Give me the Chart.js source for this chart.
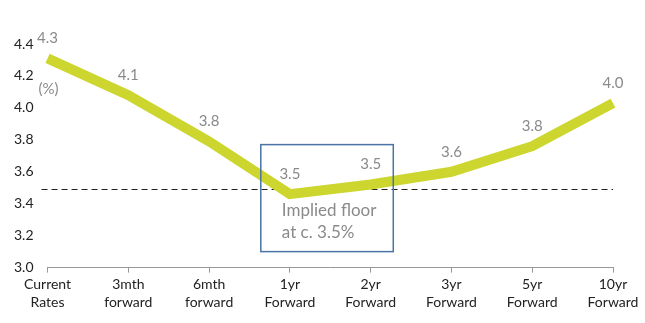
<!DOCTYPE html>
<html>
<head>
<meta charset="utf-8">
<script src="https://cdn.jsdelivr.net/npm/chart.js@4/dist/chart.umd.min.js"></script>
<style>
  html, body { margin: 0; padding: 0; background: #fff; }
  #wrap { width: 645px; height: 323px; }
</style>
</head>
<body>
<div id="wrap"><canvas id="line-chart"></canvas></div>
<script>
const categories = [
  ["Current", "Rates"],
  ["3mth", "forward"],
  ["6mth", "forward"],
  ["1yr", "Forward"],
  ["2yr", "Forward"],
  ["3yr", "Forward"],
  ["5yr", "Forward"],
  ["10yr", "Forward"],
];
const rates = [4.31, 4.08, 3.79, 3.46, 3.52, 3.60, 3.76, 4.03];
const rateLabels = ["4.3", "4.1", "3.8", "3.5", "3.5", "3.6", "3.8", "4.0"];
const floorLevel = 3.49;
const floorNote = ["Implied floor", "at c. 3.5%"];
// box drawn in data units: category index on x, rate on y
const floorBox = { xMin: 2.64, xMax: 4.28, yMin: 3.1, yMax: 3.77 };

const FONT = "Lato, 'Open Sans', sans-serif";

const extras = {
  id: "extras",
  beforeDatasetsDraw(chart) {
    const { ctx, scales: { x, y }, chartArea } = chart;
    const yy = Math.round(y.getPixelForValue(floorLevel)) + 0.5;
    ctx.save();
    ctx.strokeStyle = "#222";
    ctx.lineWidth = 1;
    ctx.setLineDash([6, 4]);
    ctx.beginPath();
    ctx.moveTo(chartArea.left - 6, yy);
    ctx.lineTo(chartArea.right, yy);
    ctx.stroke();
    ctx.restore();
  },
  afterDatasetsDraw(chart) {
    const { ctx, scales: { x, y } } = chart;
    ctx.save();
    // value labels
    ctx.fillStyle = "#8a8a8a";
    ctx.font = "15px " + FONT;
    ctx.textAlign = "center";
    ctx.textBaseline = "middle";
    const meta = chart.getDatasetMeta(0);
    meta.data.forEach((pt, i) => {
      ctx.fillText(rateLabels[i], pt.x, pt.y - 20);
    });
    // (%) unit
    ctx.textAlign = "left";
    ctx.fillText("(%)", x.left - 9, y.getPixelForValue(4.12));
    // box
    const l = x.getPixelForValue(floorBox.xMin), r = x.getPixelForValue(floorBox.xMax);
    const t = y.getPixelForValue(floorBox.yMax), b = y.getPixelForValue(floorBox.yMin);
    ctx.strokeStyle = "#4a74a5";
    ctx.lineWidth = 1.5;
    ctx.strokeRect(l, t, r - l, b - t);
    ctx.font = "17px " + FONT;
    ctx.fillText(floorNote[0], l + 21, y.getPixelForValue(3.36));
    ctx.fillText(floorNote[1], l + 21, y.getPixelForValue(3.22));
    ctx.restore();
  },
};

new Chart(document.getElementById("line-chart"), {
  type: "line",
  data: {
    labels: categories,
    datasets: [
      {
        data: rates,
        borderColor: "#cdd62f",
        borderWidth: 10,
        pointRadius: 0,
        tension: 0,
        fill: false,
      },
    ],
  },
  options: {
    responsive: true,
    maintainAspectRatio: false,
    animation: false,
    layout: { padding: { top: 44, right: 32, bottom: 8, left: 0 } },
    plugins: { legend: { display: false }, tooltip: { enabled: false } },
    scales: {
      x: {
        offset: false,
        grid: { display: true, drawOnChartArea: false, drawTicks: true, tickLength: 5, color: "#999" },
        border: { display: true, color: "#999" },
        ticks: {
          color: "#222",
          font: { family: FONT, size: 14, lineHeight: 1.3 },
          maxRotation: 0,
          autoSkip: false,
          padding: 3,
        },
      },
      y: {
        min: 3.0,
        max: 4.4,
        grid: { display: false, drawTicks: false },
        border: { display: false },
        ticks: {
          stepSize: 0.2,
          color: "#222",
          font: { family: FONT, size: 14 },
          padding: 14,
          callback: (v) => v.toFixed(1),
        },
      },
    },
  },
  plugins: [extras],
});
</script>
</body>
</html>
